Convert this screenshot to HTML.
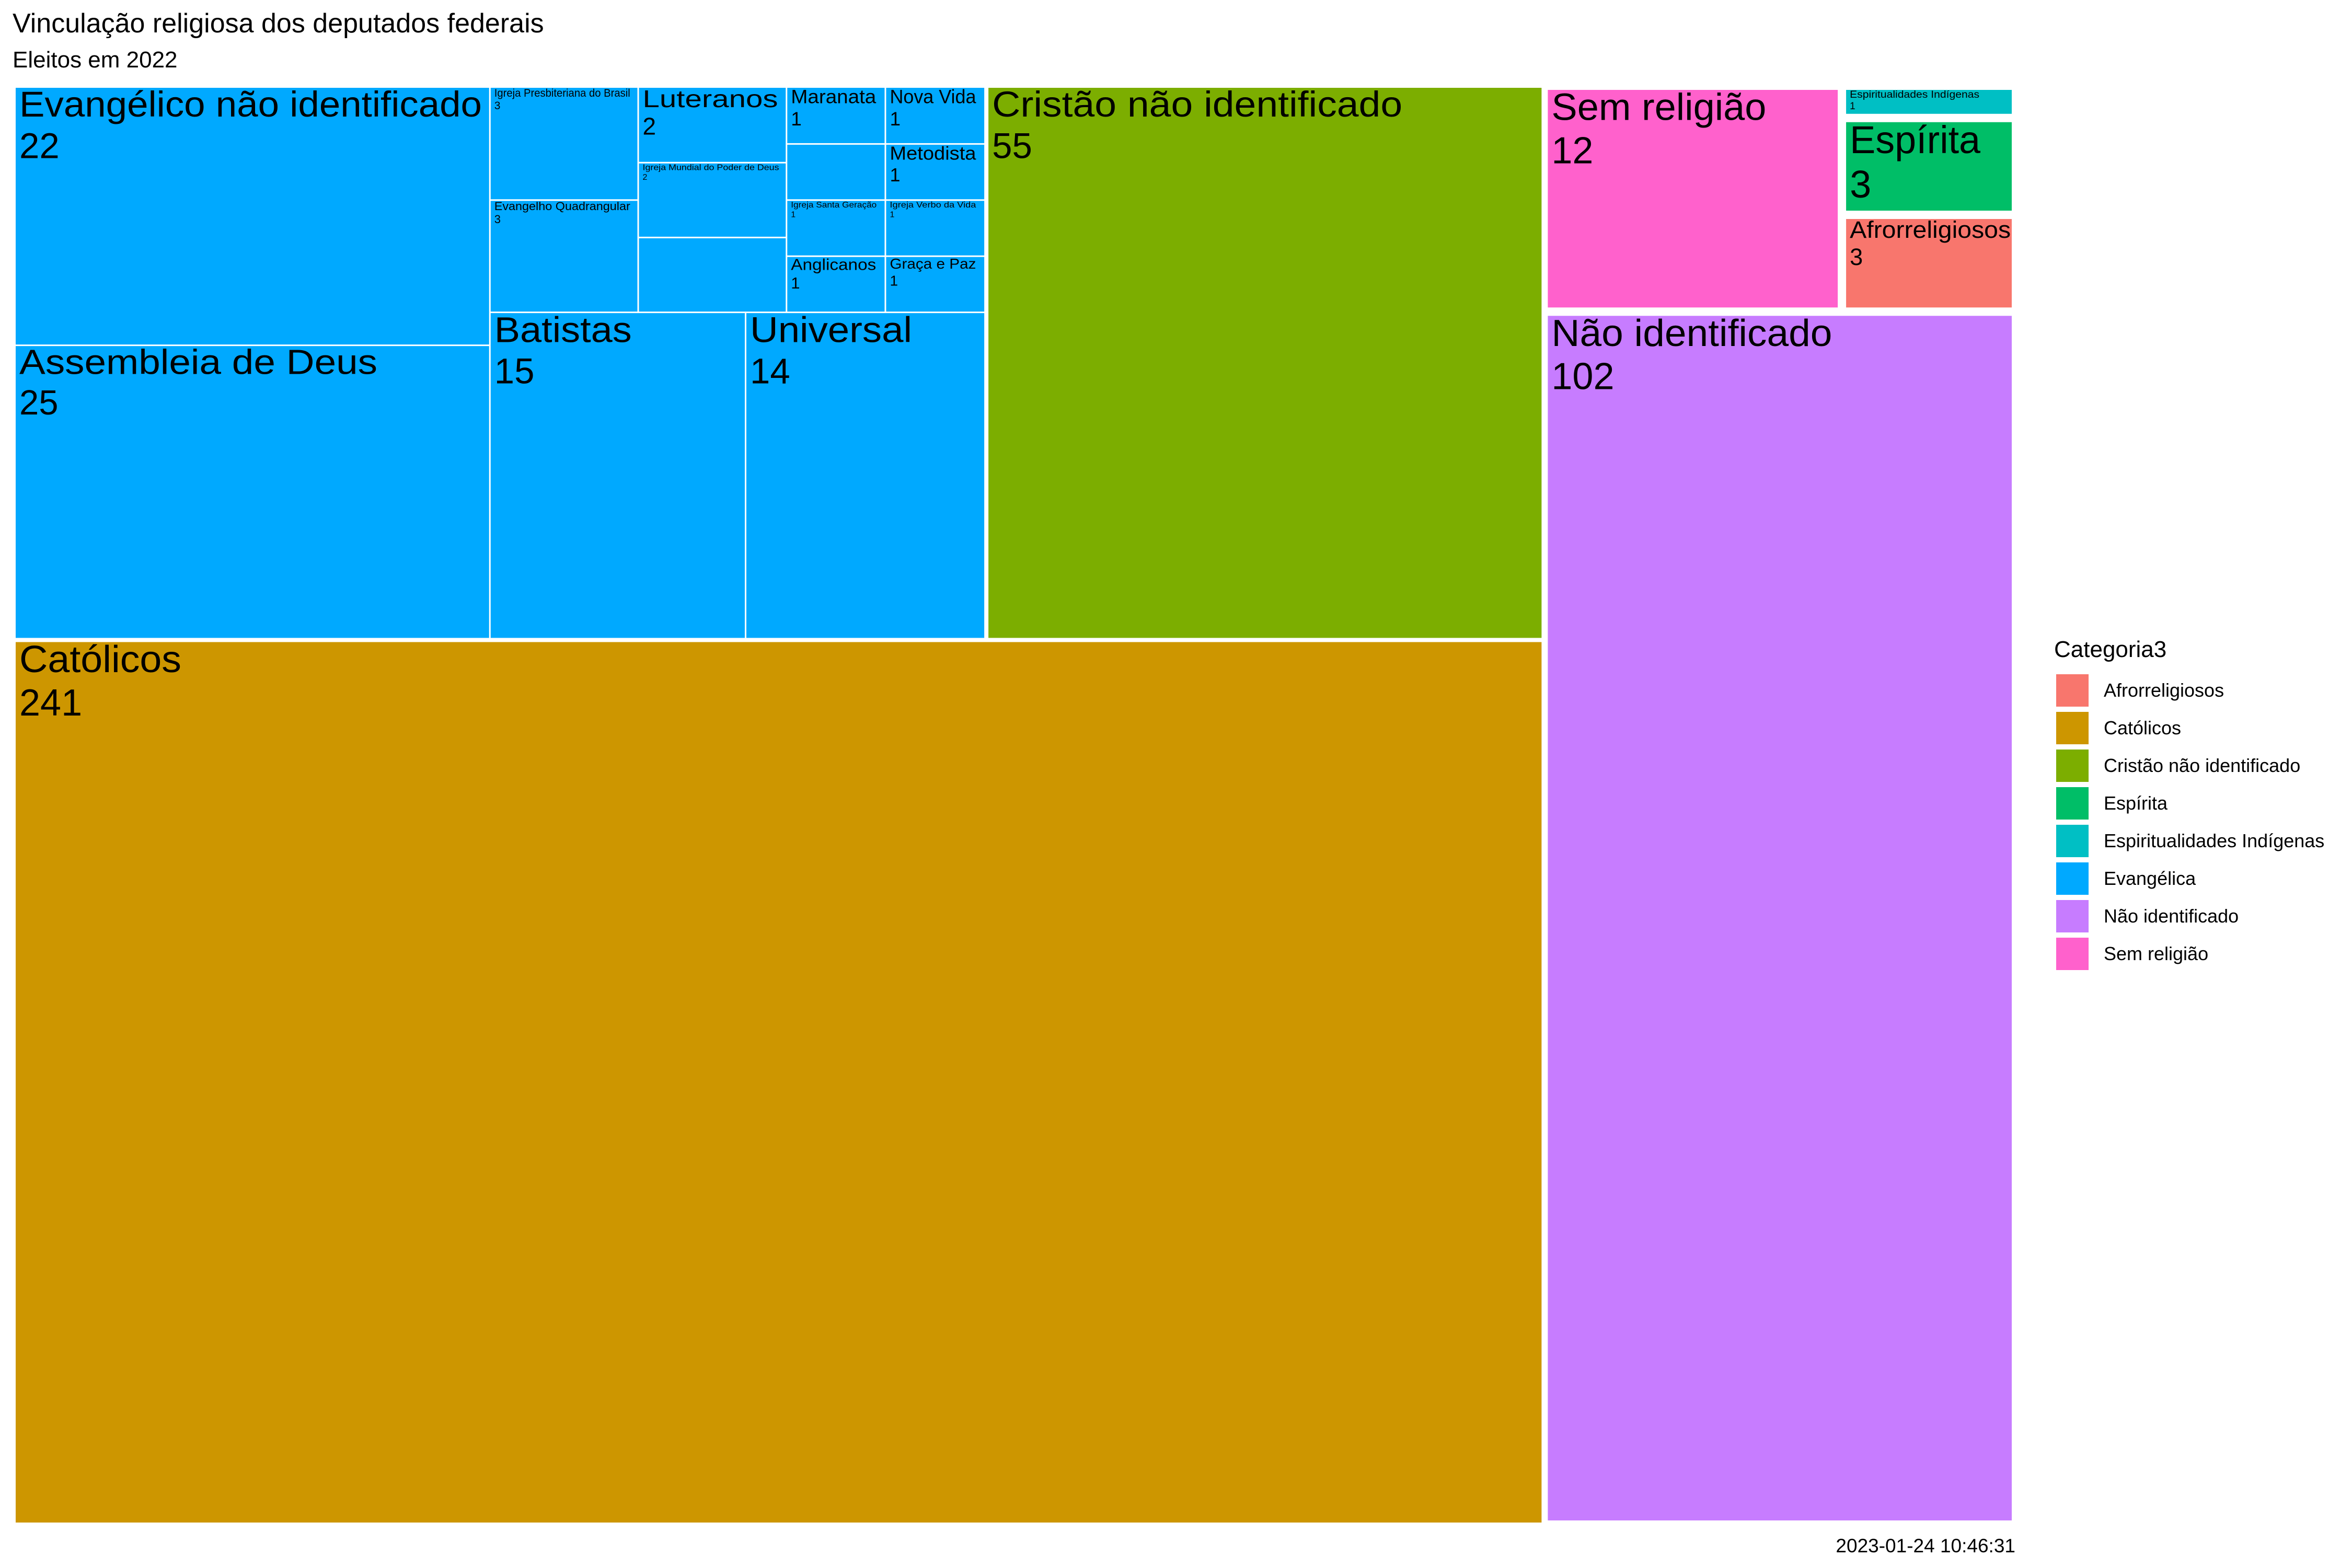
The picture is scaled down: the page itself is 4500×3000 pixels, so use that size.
<!DOCTYPE html>
<html><head><meta charset="utf-8">
<style>
html,body{margin:0;padding:0;background:#fff;}
svg{display:block;font-family:"Liberation Sans",Arial,sans-serif;}
</style></head>
<body>
<svg id="chart" width="4500" height="3000" viewBox="0 0 4500 3000" xmlns="http://www.w3.org/2000/svg">
<rect x="0" y="0" width="4500" height="3000" fill="#ffffff"/>
<text x="24" y="62" font-size="52" fill="#000">Vinculação religiosa dos deputados federais</text>
<text x="24" y="129" font-size="44" fill="#000">Eleitos em 2022</text>
<text x="3856" y="2970" font-size="37" fill="#000" text-anchor="end">2023-01-24 10:46:31</text>
<g id="tiles"></g>
<g id="legend">
<text x="3930" y="1257" font-size="44" fill="#000">Categoria3</text>
</g>
</svg>
<script>
// ---- data ----
const categories = ["Afrorreligiosos","Católicos","Cristão não identificado","Espírita","Espiritualidades Indígenas","Evangélica","Não identificado","Sem religião"];
const categoryColors = ["#F8766D","#CD9600","#7CAE00","#00BE67","#00BFC4","#00A9FF","#C77CFF","#FF61CC"];
const evangNames = ["Evangélico não identificado","Assembleia de Deus","Igreja Presbiteriana do Brasil","Evangelho Quadrangular","Luteranos","Igreja Mundial do Poder de Deus","","Maranata","","Igreja Santa Geração","Anglicanos","Nova Vida","Metodista","Igreja Verbo da Vida","Graça e Paz","Batistas","Universal"];
const evangValues = [22,25,3,3,2,2,2,1,1,1,1,1,1,1,1,15,14];
const catValues = {"Afrorreligiosos":3,"Católicos":241,"Cristão não identificado":55,"Espírita":3,"Espiritualidades Indígenas":1,"Não identificado":102,"Sem religião":12};

// ---- label styles (font size, text length) ----
const labelStyle = {
 "Evangélico não identificado":[69,885],"Assembleia de Deus":[67,685],"Igreja Presbiteriana do Brasil":[21,260],
 "Evangelho Quadrangular":[22,260],"Luteranos":[46,259],"Igreja Mundial do Poder de Deus":[16,261],
 "Maranata":[37,163],"Igreja Santa Geração":[16,164],"Anglicanos":[31,163],"Nova Vida":[37,165],
 "Metodista":[36,165],"Igreja Verbo da Vida":[16,165],"Graça e Paz":[28,165],"Batistas":[69,263],"Universal":[69,310],
 "Católicos":[72,310],"Cristão não identificado":[69,785],"Sem religião":[72,411],"Espiritualidades Indígenas":[19,248],
 "Espírita":[74,250],"Afrorreligiosos":[45,308],"Não identificado":[72,537]
};

const NS="http://www.w3.org/2000/svg";
const tilesG=document.getElementById('tiles');
const legendG=document.getElementById('legend');
function sum(a){return a.reduce((s,v)=>s+v,0);}
function colorOf(c){return categoryColors[categories.indexOf(c)];}
function split(r,weights,horizontal){
  const t=sum(weights);let acc=0;const out=[];
  for(const w of weights){
    if(horizontal){out.push({x:r.x+r.w*acc/t,y:r.y,w:r.w*w/t,h:r.h});}
    else{out.push({x:r.x,y:r.y+r.h*acc/t,w:r.w,h:r.h*w/t});}
    acc+=w;
  }
  return out;
}
function drawTile(r,inset,fill,name,value,dn){
  const rect=document.createElementNS(NS,'rect');
  rect.setAttribute('x',r.x+inset);rect.setAttribute('y',r.y+inset);
  rect.setAttribute('width',Math.max(0,r.w-2*inset));rect.setAttribute('height',Math.max(0,r.h-2*inset));
  rect.setAttribute('fill',fill);
  
  
  tilesG.appendChild(rect);
  if(!name) return;
  const st=labelStyle[name]||[30,null];const fs=st[0];
  const tx=r.x+inset+7, ty=r.y+inset+fs*0.8;
  const t1=document.createElementNS(NS,'text');
  t1.setAttribute('x',tx);t1.setAttribute('y',ty);t1.setAttribute('font-size',fs);
  if(st[1]){t1.setAttribute('textLength',st[1]);t1.setAttribute('lengthAdjust','spacingAndGlyphs');}
  t1.textContent=name;
  
  
  tilesG.appendChild(t1);
  const t2=document.createElementNS(NS,'text');
  t2.setAttribute('x',tx);t2.setAttribute('y',ty+fs*1.15);t2.setAttribute('font-size',fs);
  t2.textContent=String(value);
  
  
  tilesG.appendChild(t2);
}
function slug(s){return (s||'unlabeled').normalize('NFD').replace(/[\u0300-\u036f]/g,'').toLowerCase().replace(/[^a-z0-9]+/g,'-').replace(/^-|-$/g,'');}

// ---- layout ----
const root={x:26,y:164,w:3831,h:2753};
const evTotal=sum(evangValues);
const leftW=evTotal+catValues["Cristão não identificado"]+catValues["Católicos"];
const rightW=catValues["Sem religião"]+catValues["Espiritualidades Indígenas"]+catValues["Espírita"]+catValues["Afrorreligiosos"]+catValues["Não identificado"];
const [leftCol,rightCol]=split(root,[leftW,rightW],true);
const [topRow,catRect]=split(leftCol,[evTotal+catValues["Cristão não identificado"],catValues["Católicos"]],false);
const [evRect,crRect]=split(topRow,[evTotal,catValues["Cristão não identificado"]],true);
const smallSum=catValues["Espiritualidades Indígenas"]+catValues["Espírita"]+catValues["Afrorreligiosos"];
const [rTop,naoRect]=split(rightCol,[catValues["Sem religião"]+smallSum,catValues["Não identificado"]],false);
const [semRect,smallCol]=split(rTop,[catValues["Sem religião"],smallSum],true);
const [indRect,espRect,afroRect]=split(smallCol,[catValues["Espiritualidades Indígenas"],catValues["Espírita"],catValues["Afrorreligiosos"]],false);

const G=4;
const GR=8;
drawTile(catRect,G,colorOf("Católicos"),"Católicos",catValues["Católicos"],'tile-catolicos');
drawTile(crRect,G,colorOf("Cristão não identificado"),"Cristão não identificado",catValues["Cristão não identificado"],'tile-cristao-nao-identificado');
drawTile(semRect,GR,colorOf("Sem religião"),"Sem religião",catValues["Sem religião"],'tile-sem-religiao');
drawTile(indRect,GR,colorOf("Espiritualidades Indígenas"),"Espiritualidades Indígenas",catValues["Espiritualidades Indígenas"],'tile-espiritualidades-indigenas');
drawTile(espRect,GR,colorOf("Espírita"),"Espírita",catValues["Espírita"],'tile-espirita');
drawTile(afroRect,GR,colorOf("Afrorreligiosos"),"Afrorreligiosos",catValues["Afrorreligiosos"],'tile-afrorreligiosos');
drawTile(naoRect,GR,colorOf("Não identificado"),"Não identificado",catValues["Não identificado"],'tile-nao-identificado');

// Evangélica internal layout
const ev={x:evRect.x+G,y:evRect.y+G,w:evRect.w-2*G,h:evRect.h-2*G};
const v=evangValues;
const [evLeft,evRest]=split(ev,[v[0]+v[1],sum(v)-v[0]-v[1]],true);
const leftParts=split(evLeft,[v[0],v[1]],false);
const smallTot=sum(v.slice(2,15));
const [evSmall,evBig]=split(evRest,[smallTot,v[15]+v[16]],false);
const cols=split(evSmall,[v[2]+v[3],v[4]+v[5]+v[6],v[7]+v[8]+v[9]+v[10],v[11]+v[12]+v[13]+v[14]],true);
const rects=[leftParts[0],leftParts[1]]
 .concat(split(cols[0],[v[2],v[3]],false))
 .concat(split(cols[1],[v[4],v[5],v[6]],false))
 .concat(split(cols[2],[v[7],v[8],v[9],v[10]],false))
 .concat(split(cols[3],[v[11],v[12],v[13],v[14]],false))
 .concat(split(evBig,[v[15],v[16]],true));
rects.forEach((r,i)=>{
  const l=r.x>ev.x+1?1.5:0, t=r.y>ev.y+1?1.5:0;
  const rr=r.x+r.w<ev.x+ev.w-1?1.5:0, b=r.y+r.h<ev.y+ev.h-1?1.5:0;
  drawTile({x:r.x+l,y:r.y+t,w:r.w-l-rr,h:r.h-t-b},0,colorOf("Evangélica"),evangNames[i],v[i],'tile-'+slug(evangNames[i])+'-'+i);
});

// legend
categories.forEach((c,i)=>{
  const k=document.createElementNS(NS,'rect');
  k.setAttribute('x',3934);k.setAttribute('y',1290+72*i);k.setAttribute('width',62);k.setAttribute('height',62);
  k.setAttribute('fill',categoryColors[i]);
  
  
  legendG.appendChild(k);
  const t=document.createElementNS(NS,'text');
  t.setAttribute('x',4025);t.setAttribute('y',1333+72*i);t.setAttribute('font-size',36);
  t.textContent=c;
  
  
  legendG.appendChild(t);
});
</script>
</body></html>
